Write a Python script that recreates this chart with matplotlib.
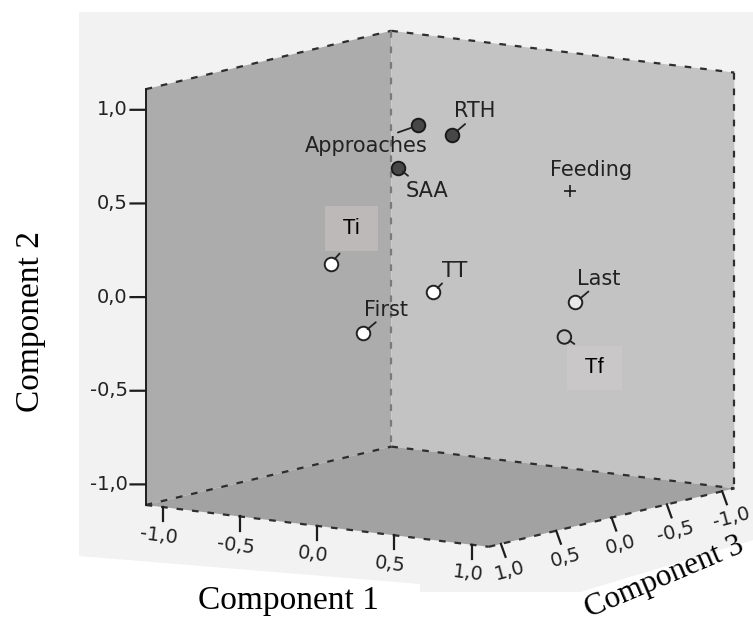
import numpy as np
import matplotlib
matplotlib.use("Agg")
import matplotlib.pyplot as plt
from matplotlib.patches import Polygon
from mpl_toolkits.mplot3d import proj3d
from mpl_toolkits.mplot3d.art3d import Poly3DCollection

# ---- component loadings -------------------------------------------------
variables = ["Approaches", "RTH", "SAA", "Feeding", "Ti", "TT", "First", "Last", "Tf"]
comp1 = [0.00, 0.15, -0.20, 0.48, -0.35, 0.17, -0.07, 0.59, 0.59]
comp2 = [0.90, 0.85, 0.64, 0.50, 0.17, 0.04, -0.16, -0.07, -0.24]
comp3 = [0.20, 0.10, 0.10, -0.50, 0.50, 0.30, 0.60, -0.40, -0.30]

ticks = [-1.0, -0.5, 0.0, 0.5, 1.0]
tick_labels = ["-1,0", "-0,5", "0,0", "0,5", "1,0"]
axis_titles = ["Component 1", "Component 2", "Component 3"]

# ---- marker styles per variable ------------------------------------------
marker_style = {
    "Approaches": dict(marker="o", fc="#474747", ec="#1a1a1a"),
    "RTH":        dict(marker="o", fc="#474747", ec="#1a1a1a"),
    "SAA":        dict(marker="o", fc="#474747", ec="#1a1a1a"),
    "Feeding":    dict(marker="+", fc="#1a1a1a", ec="#1a1a1a"),
    "Ti":         dict(marker="o", fc="white", ec="#222222"),
    "TT":         dict(marker="o", fc="white", ec="#222222"),
    "First":      dict(marker="o", fc="white", ec="#222222"),
    "Last":       dict(marker="o", fc="#e8e8e8", ec="#222222"),
    "Tf":         dict(marker="o", fc="none", ec="#222222"),
}
# label centre offset and leader-stub tip offset, in pixels (+y up)
label_offset = {
    "Approaches": (-52, -21), "RTH": (23, 24), "SAA": (29, -23),
    "Feeding": (22, 21), "Ti": (21, 35), "TT": (22, 21),
    "First": (23, 23), "Last": (23, 23), "Tf": (30, -31),
}
stub_tip = {
    "Approaches": (-20, -7), "RTH": (13, 11), "SAA": (10, -8),
    "Ti": (9, 10), "TT": (9, 9), "First": (13, 11), "Last": (13, 11),
    "Tf": (10, -7),
}
boxed_labels = {"Ti": "#bdb9b9", "Tf": "#c9c7c7"}

W, H, DPI = 753, 628, 100
fig = plt.figure(figsize=(W / DPI, H / DPI), dpi=DPI, facecolor="white")

# light grey chart backdrop
bg_px = [(79, 12), (753, 12), (753, 540), (580, 592), (420, 592),
         (420, 584), (79, 556)]
fig.patches.append(Polygon([(x / W, 1 - y / H) for x, y in bg_px], closed=True,
                           transform=fig.transFigure, facecolor="#f2f2f2",
                           edgecolor="none", zorder=-5))

# ---- 3D axes --------------------------------------------------------------
S = 640                      # side of the square axes, px
cx, cy = 440.0, 288.8        # where the cube centre sits, px from top-left
left = cx - 0.5135 * S
bottom = (H - cy) - 0.5135 * S
ax = fig.add_axes([left / W, bottom / H, S / W, S / H], projection="3d",
                  computed_zorder=False)
ax.set_zorder(1)
ax.set_proj_type("ortho")
ax.view_init(elev=9.8, azim=-54.4)
ax.set_box_aspect((1, 1, 1), zoom=422 / (0.5948 * S))
ax.set_axis_off()
ax.patch.set_visible(False)

lim = 1.11
lo, hi = -lim, lim
# x = Component 1, y = Component 3 (reversed), z = Component 2
ax.set_xlim(lo, hi)
ax.set_ylim(hi, lo)
ax.set_zlim(lo, hi)

# walls and floor
LT, BT, RT = (lo, hi, hi), (lo, lo, hi), (hi, lo, hi)
LB, BB, RB, FB = (lo, hi, lo), (lo, lo, lo), (hi, lo, lo), (hi, hi, lo)
walls = [([LB, BB, BT, LT], "#acacac"),
         ([BB, RB, RT, BT], "#c3c3c3"),
         ([LB, BB, RB, FB], "#a2a2a2")]
for verts, col in walls:
    pc = Poly3DCollection([verts], facecolor=col, edgecolor="none", zorder=1)
    ax.add_collection3d(pc)

def edge(p, q, **kw):
    ax.plot([p[0], q[0]], [p[1], q[1]], [p[2], q[2]], **kw)

dash = dict(color="#2e2e2e", lw=1.6, ls=(0, (3, 4)), zorder=2)
for p, q in [(LT, BT), (BT, RT), (RT, RB), (LB, BB), (BB, RB), (LB, FB), (FB, RB)]:
    edge(p, q, **dash)
edge(BT, BB, color="#7a7a7a", lw=1.6, ls=(0, (3, 4)), zorder=2)
edge(LT, LB, color="#1e1e1e", lw=1.4, zorder=2)

M = ax.get_proj()

def view_xy(x, y, z):
    xs, ys, _ = proj3d.proj_transform(np.atleast_1d(x), np.atleast_1d(y),
                                      np.atleast_1d(z), M)
    return float(xs[0]), float(ys[0])

tick_font = dict(fontsize=14, color="#222222", family="DejaVu Sans")
for t, lab in zip(ticks, tick_labels):
    # Component 2: vertical axis on the front-left edge
    edge((lo, hi, t), (lo - 0.064, hi + 0.047, t), color="#1e1e1e", lw=1.6, zorder=3)
    ax.annotate(lab, xy=view_xy(lo, hi, t), xytext=(-18, 0),
                textcoords="offset pixels", ha="right", va="center", **tick_font)
    # Component 1: front-left floor edge
    edge((t, hi, lo), (t, hi, lo - 0.075), color="#1e1e1e", lw=1.6, zorder=3)
    ax.annotate(lab, xy=view_xy(t, hi, lo), xytext=(-4, -29),
                textcoords="offset pixels", ha="center", va="center",
                rotation=-7, **tick_font)
    # Component 3: front-right floor edge
    edge((hi, t, lo), (hi + 0.03, t, lo - 0.066), color="#1e1e1e", lw=1.6, zorder=3)
    ax.annotate(lab, xy=view_xy(hi, t, lo), xytext=(9, -27),
                textcoords="offset pixels", ha="center", va="center",
                rotation=15, **tick_font)

# ---- points, leader stubs and labels -------------------------------------
for name, a, b, c in zip(variables, comp1, comp2, comp3):
    st = marker_style[name]
    if st["marker"] == "+":
        ax.scatter([a], [c], [b], marker="+", s=70, c=st["ec"], linewidths=1.2,
                   depthshade=False, zorder=4)
    else:
        ax.scatter([a], [c], [b], marker="o", s=95, facecolors=st["fc"],
                   edgecolors=st["ec"], linewidths=1.4, depthshade=False, zorder=4)
    pxy = view_xy(a, c, b)
    if name in stub_tip:
        ax.annotate("", xy=pxy, xytext=stub_tip[name], textcoords="offset pixels",
                    arrowprops=dict(arrowstyle="-", color="#222222", lw=1.3,
                                    shrinkA=0, shrinkB=4.5), zorder=5)
    if name in boxed_labels:
        ax.annotate(f" {name} ", xy=pxy, xytext=label_offset[name],
                    textcoords="offset pixels", ha="center", va="center",
                    fontsize=15.5, color="black", family="Liberation Sans", zorder=5,
                    bbox=dict(boxstyle="square,pad=0.55", fc=boxed_labels[name],
                              ec="none"))
    else:
        ax.annotate(name, xy=pxy, xytext=label_offset[name], textcoords="offset pixels",
                    ha="center", va="center", fontsize=15, color="#222222",
                    family="DejaVu Sans", zorder=5)

# ---- axis titles ----------------------------------------------------------
title_font = dict(family="Liberation Serif", fontsize=24, color="black",
                  ha="center", va="center")
fig.text(288 / W, 1 - 601 / H, axis_titles[0], **title_font)
fig.text(31 / W, 1 - 322 / H, axis_titles[1], rotation=90, **title_font)
fig.text(664 / W, 1 - 577 / H, axis_titles[2], rotation=23,
         **{**title_font, "fontsize": 22.5})

fig.savefig("out.png", dpi=DPI, facecolor="white")
